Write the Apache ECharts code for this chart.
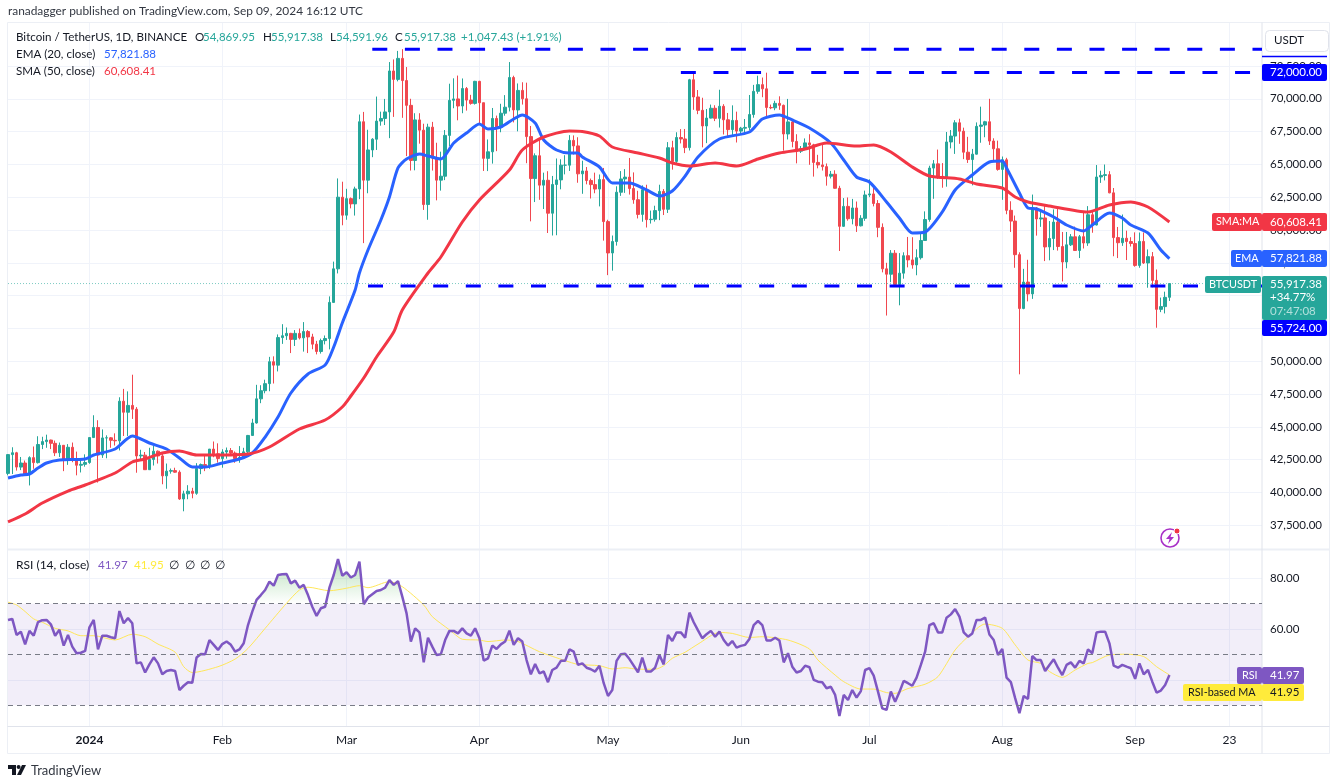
<!DOCTYPE html>
<html>
<head>
<meta charset="utf-8">
<title>BTCUSDT</title>
<script src="https://cdn.jsdelivr.net/npm/echarts@6/dist/echarts.min.js"></script>
<style>
  html, body { margin: 0; padding: 0; background: #fff; }
  #chart { width: 1336px; height: 784px; }
</style>
</head>
<body>
<div id="chart"></div>
<script>
// Daily candles, 13 Dec 2023 to 9 Sep 2024, one row per month
const opens = [
  41450,42880,43020,41930,42240,41360,42650,42270,43650,43870,43990,43740,43020,43590,42520,43440,42580,42070,42140,
  42280,44180,44950,42850,44150,44160,43970,43930,46950,46110,46630,46340,42780,42840,41730,42510,43140,42780,41260,41620,41660,41540,39500,39890,40090,39930,41820,42120,42030,43300,42940,
  42580,43080,43190,43000,42580,42660,43090,44340,45290,47130,47750,48290,49960,49700,51800,51940,52120,51660,52120,51780,52260,51850,51300,50740,51570,51730,54480,57040,62500,
  61130,62390,61990,63130,68250,63800,66100,66920,68300,68500,69000,72120,71480,73080,71390,69500,65300,68390,67610,61940,67840,65500,63800,64100,67210,69880,69990,69450,70780,69900,69650,
  71330,69700,65460,65960,68500,67840,68900,69360,71620,69150,70640,70000,67120,63920,65660,63420,63790,61280,63470,63820,64940,64940,66830,66410,64280,64500,63770,63460,63120,63840,
  60640,58250,59120,62880,63890,64030,63160,62310,61190,63070,60790,60820,61480,62940,61580,66270,65230,67050,66940,66280,71450,70140,69120,67930,68530,69280,68510,69430,68400,67650,68350,
  67540,67760,67820,68800,70570,71080,70760,69340,69310,69650,69500,67320,68240,66750,66010,66190,66640,66490,65150,64960,64830,64100,64250,63180,60280,61800,60860,61680,60320,60890,
  62670,62750,62020,60200,57040,56630,58230,55850,56710,58040,57720,57340,57890,59200,60800,64720,65040,64090,63970,66710,67160,68170,67530,65930,65370,65780,67900,68000,68250,66780,66190,
  64620,65350,61500,60680,58120,54020,56030,55130,61680,60840,60920,58710,59350,60600,58740,57560,58870,59480,58440,59490,59010,61160,60380,64040,64160,64220,62830,59420,59030,59370,59120,
  58970,57300,59130,57490,57970,56160,53950,54160,54869.95
];
const highs = [
  42800,43440,43090,42700,42430,42750,43500,44280,44240,44400,44020,43950,43800,43600,43680,43800,43110,42600,42900,
  44180,45880,45500,44800,44350,44220,44500,47250,47890,47700,48970,46500,43250,43080,43400,43570,43200,42930,42200,41820,41880,41680,40130,40550,40350,42230,42200,42840,43310,43880,43740,
  43290,43420,43380,43120,43530,43400,44380,45610,48200,48170,48590,50330,50370,52040,52820,52570,52160,52370,52490,52980,52370,52090,51550,51720,51960,54940,57590,63930,63680,
  63140,62480,63300,68800,69000,67640,67000,70170,69020,69990,72800,73000,73650,73780,72420,70000,68900,68900,68100,68100,68240,66650,65970,67620,71150,71560,71770,71550,70900,70300,71370,
  71370,69700,66900,69300,68720,69620,70280,72800,71760,71170,71260,71230,67930,65840,66870,64370,64480,64120,65450,65390,65700,67230,67210,67070,65280,64800,63920,64370,64230,64730,
  60780,59580,63330,64490,64640,65490,64390,62990,63400,63450,61480,61850,63450,63120,66700,66800,67450,67690,67700,71520,71980,70670,70080,69220,69560,69510,70690,69590,68920,69500,69020,
  67860,68460,70290,71060,71760,71620,71990,69560,69850,70190,69560,69990,68450,67300,66400,66980,67300,66570,65730,66480,65070,64500,64550,63370,62430,62480,62370,62170,61130,63000,
  63860,63290,62280,60500,57500,58470,58470,58240,58300,59470,59450,58530,59850,61420,64900,65330,66130,65100,67470,67620,68370,68480,67800,67100,66180,68200,69400,68320,70000,66990,66810,
  65600,65500,62190,61100,58300,57040,57730,62700,61750,61460,61860,60680,61570,61800,59850,59850,59690,60260,59620,61420,61820,61410,64950,64520,64990,64480,63200,60230,61180,59950,59450,
  59820,59810,59810,58520,58320,56990,54850,55300,55917.38
];
const lows = [
  41300,41400,41660,41700,41250,40530,41800,42200,43300,43400,43300,42770,42700,41620,42100,42300,41300,41520,41960,
  42180,44150,40750,42630,42600,43400,43570,43200,44300,44300,45600,41500,42430,41720,41720,42050,42200,40620,40280,41430,41500,39430,38560,39480,39550,39820,41390,41620,41800,42680,42270,
  41880,42570,42880,42260,42260,42570,42790,44330,45240,46800,47550,47710,48300,49220,51320,51620,50620,51160,51660,50730,50620,50910,50520,50580,51280,50900,54450,56690,60360,
  60780,61650,61100,62350,59000,62800,65550,66100,67950,68000,67000,68620,71330,68550,65630,64530,64550,66580,61530,60780,64530,62260,63000,63800,66400,69280,68360,68900,69100,69550,69560,
  68060,64500,64490,65060,66010,67450,68710,69040,68200,67520,69560,65090,60660,62130,62300,61600,59770,59580,59600,63100,64240,64500,65750,63600,62760,63480,62400,62800,61800,59190,
  56560,56900,58810,62600,62830,62700,62000,60880,60630,60190,60490,60640,60750,61140,61300,64600,65110,66600,65860,66060,69160,68830,66300,66620,68500,68300,67810,67280,67110,67130,66670,
  67380,67260,67610,68560,70380,70120,68500,69210,69130,69160,66050,66900,66300,65080,65870,66080,64970,64070,64700,64530,63380,63930,63150,58400,60240,60710,60430,59850,60270,60700,
  62500,61800,59450,56770,53480,56020,55720,54260,56290,57150,57050,56550,57750,59200,60630,62380,63900,63220,63300,66220,65800,66570,65400,65110,63400,65750,66650,67070,66480,65300,64520,
  62300,61200,59850,57120,49000,53960,54560,54750,59570,60240,57630,57690,58470,58430,56080,57080,58780,58420,57860,58590,58790,59790,60350,63590,63780,62800,58000,57860,58790,57710,58740,
  57200,57120,57410,55600,55630,52550,53740,53640,54591.96
];
const closes = [
  42880,43020,41930,42240,41360,42650,42270,43650,43870,43990,43740,43020,43590,42520,43440,42580,42070,42140,42280,
  44180,44950,42850,44150,44160,43970,43930,46950,46110,46630,46340,42780,42840,41730,42510,43140,42780,41260,41620,41660,41540,39500,39890,40090,39930,41820,42120,42030,43300,42940,42580,
  43080,43190,43000,42580,42660,43090,44340,45290,47130,47750,48290,49960,49700,51800,51940,52120,51660,52120,51780,52260,51850,51300,50740,51570,51730,54480,57040,62500,61130,
  62390,61990,63130,68250,63800,66100,66920,68300,68500,69000,72120,71480,73080,71390,69500,65300,68390,67610,61940,67840,65500,63800,64100,67210,69880,69990,69450,70780,69900,69650,71330,
  69700,65460,65960,68500,67840,68900,69360,71620,69150,70640,70000,67120,63920,65660,63420,63790,61280,63470,63820,64940,64940,66830,66410,64280,64500,63770,63460,63120,63840,60640,
  58250,59120,62880,63890,64030,63160,62310,61190,63070,60790,60820,61480,62940,61580,66270,65230,67050,66940,66280,71450,70140,69120,67930,68530,69280,68510,69430,68400,67650,68350,67540,
  67760,67820,68800,70570,71080,70760,69340,69310,69650,69500,67320,68240,66750,66010,66190,66640,66490,65150,64960,64830,64100,64250,63180,60280,61800,60860,61680,60320,60890,62670,
  62750,62020,60200,57040,56630,58230,55850,56710,58040,57720,57340,57890,59200,60800,64720,65040,64090,63970,66710,67160,68170,67530,65930,65370,65780,67900,68000,68250,66780,66190,64620,
  65350,61500,60680,58120,54020,56030,55130,61680,60840,60920,58710,59350,60600,58740,57560,58870,59480,58440,59490,59010,61160,60380,64040,64160,64220,62830,59420,59030,59370,59120,58970,
  57300,59130,57490,57970,56160,53950,54160,54870,55917.38
];

// Readings of the two averages: [candle index, value]
const emaReadings = [
  [0,41097],[3,41326],[5,41402],[7,41860],[9,42241],[12,42469],[18,42546],[20,42850],[25,43308],[29,44299],[33,43765],[37,43308],
  [40,42622],[43,41936],[46,41936],[50,42241],[54,42546],[57,43003],[60,44222],[63,45747],[66,47576],[70,49024],[74,49710],[76,51082],
  [78,52911],[81,55427],[82,56722],[84,58476],[87,60762],[89,62515],[91,64726],[93,65412],[96,65793],[98,65640],[101,65412],[104,66631],
  [107,67393],[110,68079],[112,67698],[115,67851],[118,68460],[120,68765],[123,68155],[125,66860],[128,66098],[131,65869],[133,65869],[134,65564],
  [138,64802],[141,63582],[145,63582],[149,63049],[152,62591],[155,62973],[158,64116],[161,65564],[166,66936],[173,67470],[176,68460],[180,68765],
  [183,68384],[187,67774],[192,66631],[195,65335],[198,64040],[201,63658],[205,62134],[208,60915],[211,59771],[214,59847],[218,61372],[221,63049],
  [225,64192],[229,65183],[232,65259],[233,64726],[236,62820],[238,61677],[240,61601],[244,60991],[247,60381],[251,59924],[253,60381],[257,61296],
  [260,60915],[262,60381],[266,59771],[269,58476],[271,57821.88]
];
const smaReadings = [
  [0,37744],[4,38353],[8,39192],[14,40106],[18,40564],[25,41478],[29,42317],[32,42546],[36,43003],[40,43155],[44,42850],[48,42850],
  [56,42927],[61,43460],[68,44832],[74,45518],[78,46509],[80,47347],[83,48719],[86,50320],[90,52225],[92,53902],[98,56722],[101,57942],
  [106,60610],[110,62287],[117,64573],[120,66098],[125,67088],[131,67546],[134,67508],[138,67165],[141,66326],[147,65869],[152,65488],[155,65107],
  [159,64878],[165,65107],[170,64878],[175,65412],[180,65869],[186,66174],[191,66631],[198,66402],[202,66479],[206,65945],[211,64802],[215,64116],
  [222,63887],[226,63506],[232,63201],[235,62515],[238,62134],[243,61829],[252,61372],[257,61905],[262,62134],[266,61753],[271,60608.41]
];

// RSI (14), one value per candle
const rsiValues = [
  63.6,64.0,57.7,59.0,54.0,59.3,57.4,62.7,63.5,63.6,61.9,57.4,59.7,53.5,57.7,53.1,50.5,50.7,51.4,
  60.7,63.6,52.0,57.4,57.4,56.8,56.4,67.1,62.3,64.3,62.3,46.5,46.9,42.9,46.1,48.9,46.5,42.2,43.5,43.9,43.5,36.0,37.7,39.1,38.9,48.8,50.2,50.1,55.7,53.8,51.8,
  54.1,55.1,53.8,51.1,52.0,54.4,61.6,66.9,71.5,73.4,75.4,78.7,77.1,81.3,81.6,81.7,78.0,79.1,76.3,77.4,73.4,68.8,65.2,68.2,68.8,76.3,81.3,87.6,81.0,
  82.4,80.3,81.3,86.6,69.8,72.4,73.7,75.0,75.4,76.3,79.3,77.4,78.9,72.8,66.2,55.1,60.3,58.7,46.9,56.6,53.1,49.8,50.1,55.7,59.3,59.3,58.3,60.3,58.3,57.4,60.3,
  56.4,47.6,48.5,53.5,52.2,54.0,55.1,59.4,53.8,56.4,55.1,47.8,42.2,46.3,42.6,43.3,39.1,43.9,44.8,47.5,47.5,52.0,51.1,45.9,46.5,44.8,44.2,43.3,45.6,38.7,
  33.7,36.0,47.5,50.1,50.3,48.2,45.6,43.0,48.8,43.3,43.3,44.8,49.8,46.1,57.7,55.3,58.7,58.7,56.6,66.5,62.7,59.5,56.4,58.0,59.3,57.0,59.0,55.7,53.5,55.3,52.7,
  53.4,53.8,56.1,61.6,63.2,61.6,55.5,55.5,56.6,55.5,46.9,50.5,45.2,42.9,43.5,45.6,45.0,40.0,39.3,39.1,36.7,37.3,34.1,25.8,34.1,32.1,36.0,33.0,35.6,43.9,
  44.6,41.7,35.4,28.8,28.2,35.4,31.4,35.2,39.6,38.7,37.7,40.9,45.9,51.1,61.6,62.3,58.7,58.7,64.5,65.8,67.9,64.9,58.7,57.0,58.3,63.6,63.6,64.5,57.9,55.7,49.8,
  52.2,40.9,39.1,32.8,26.9,33.7,32.5,49.4,47.8,47.8,43.5,45.9,48.1,44.8,41.9,45.9,46.9,44.8,47.5,46.5,52.0,50.5,58.7,59.0,59.0,54.4,45.6,44.8,45.9,45.2,44.6,
  40.4,46.5,42.2,43.9,39.3,35.0,35.8,38.0,41.97
];
const rsiMaReadings = [
  [0,70.6],[2,69.5],[4,66.9],[6,64.0],[8,62.7],[11,60.3],[14,59.3],[17,57.4],[20,57.4],[25,55.7],[29,58.0],[32,57.0],[35,54.1],[39,50.9],[41,45.2],[43,42.9],
  [49,45.2],[53,48.2],[56,52.4],[60,60.3],[65,70.2],[68,75.4],[70,76.5],[75,75.1],[79,76.1],[82,77.1],[84,76.3],[89,78.7],[92,76.7],[97,69.5],[99,64.9],[103,59.7],
  [104,58.3],[106,56.0],[110,55.7],[112,55.1],[116,55.7],[119,55.1],[124,51.1],[130,47.6],[133,46.1],[138,45.6],[141,44.3],[144,44.8],[147,44.2],[151,44.2],[153,45.6],[155,48.5],
  [158,50.9],[161,54.1],[166,58.7],[169,58.3],[173,56.7],[176,57.0],[182,55.7],[187,52.2],[189,47.8],[193,41.9],[195,39.3],[199,36.4],[202,36.4],[205,35.0],[207,34.7],[210,36.6],
  [214,38.3],[217,41.3],[221,51.8],[224,57.0],[228,62.0],[232,60.3],[235,53.8],[238,47.8],[241,46.5],[243,43.3],[246,41.0],[249,43.9],[252,46.5],[253,46.8],[257,49.8],[261,50.1],
  [265,49.2],[268,45.2],[271,41.95]
];

// Horizontal levels drawn by the author: [first candle index, price]
const drawnLevels = [[85,73777],[157,72000],[84,55724]];
const lastPrice = 55917.38;

const priceTicks = [37500,40000,42500,45000,47500,50000,52500,55000,57500,60000,62500,65000,67500,70000,72500];
const rsiTicks = [40,60,80];
// x is the number of days since 13 Dec 2023
const timeTicks = [19,50,79,110,140,171,201,232,263,285];
const timeTickLabels = ['2024','Feb','Mar','Apr','May','Jun','Jul','Aug','Sep','23'];
const xMax = 292.6;

const FONT = 'Lato, "Noto Sans", sans-serif';
const TEXT = '#131722';
const GREEN = '#26a69a';
const RED = '#f0484f';
const BLUE = '#2962ff';
const SMA_RED = '#f23645';
const PURPLE = '#7e57c2';
const YELLOW = '#ffeb3b';
const GRID_LINE = '#f0f3fa';
const FRAME = '#e0e3eb';
const OUTER = '#eceff5';

const money = v => v.toLocaleString('en-US', { minimumFractionDigits: 2, maximumFractionDigits: 2 });

const chart = echarts.init(document.getElementById('chart'), null, { renderer: 'canvas' });

// flat text + boxes around the plot
const txt = (x, y, text, fill, size) => ({
  type: 'text', z: 110, silent: true,
  style: { x, y, text, fill: fill || TEXT, font: (size || 11.6) + 'px ' + FONT, textVerticalAlign: 'middle' }
});
const box = (x, y, w, h, fill, r) => ({
  type: 'rect', z: 105, silent: true,
  shape: { x, y, width: w, height: h, r: r === undefined ? 2 : r },
  style: { fill }
});
const rule = (x1, y1, x2, y2, color, width) => ({
  type: 'line', z: 2, silent: true,
  shape: { x1, y1, x2, y2 },
  style: { stroke: color || FRAME, lineWidth: width || 1 }
});

const overlay = [
  // frame
  rule(7.5, 22.5, 1329.5, 22.5, OUTER), rule(7.5, 22.5, 7.5, 753.5, OUTER), rule(1329.5, 22.5, 1329.5, 753.5, OUTER),
  rule(7.5, 753.5, 1329.5, 753.5, OUTER), rule(7.5, 549.5, 1329.5, 549.5, OUTER, 2), rule(7.5, 726.5, 1329.5, 726.5),
  rule(1262, 22.5, 1262, 753.5),

  txt(8, 11, 'ranadagger published on TradingView.com, Sep 09, 2024 16:12 UTC', '#333842', 11.9),

  txt(16, 37, 'Bitcoin / TetherUS, 1D, BINANCE'),
  txt(195, 37, 'O'), txt(203, 37, '54,869.95', GREEN, 11.5),
  txt(263, 37, 'H'), txt(271, 37, '55,917.38', GREEN, 11.5),
  txt(330, 37, 'L'), txt(336, 37, '54,591.96', GREEN, 11.5),
  txt(395, 37, 'C'), txt(404, 37, '55,917.38', GREEN, 11.5),
  txt(461, 37, '+1,047.43 (+1.91%)', GREEN),
  txt(16, 54, 'EMA (20, close)'), txt(104, 54, '57,821.88', BLUE, 11.5),
  txt(16, 71, 'SMA (50, close)'), txt(104, 71, '60,608.41', SMA_RED, 11.5),

  txt(16, 565, 'RSI (14, close)', TEXT, 12), txt(98, 565, '41.97', PURPLE), txt(134, 565, '41.95', YELLOW),
  txt(169, 565, '∅'), txt(185, 565, '∅'), txt(200, 565, '∅'), txt(215, 565, '∅'),

  // currency box
  { type: 'rect', z: 105, silent: true, shape: { x: 1265.5, y: 30.5, width: 63, height: 21, r: 4 }, style: { fill: '#fff', stroke: FRAME } },
  txt(1274, 40, 'USDT'),

  // price tags
  rule(1262, 56.5, 1327, 56.5, '#0000ff', 1.5),
  box(1262, 64, 65, 17, '#0000ff'), txt(1270, 72.5, '72,000.00', '#fff', 11.5),
  box(1212, 213, 50, 18, SMA_RED), txt(1216, 222, 'SMA:MA', '#fff', 10.8),
  box(1262, 213, 65, 18, SMA_RED), txt(1270, 222, '60,608.41', '#fff', 11.5),
  box(1231, 250, 31, 17, BLUE), txt(1235, 258.5, 'EMA', '#fff', 10.8),
  box(1262, 250, 65, 17, BLUE), txt(1270, 258.5, '57,821.88', '#fff', 11.5),
  box(1205, 276, 56, 17, GREEN), txt(1209, 284.5, 'BTCUSDT', '#fff', 10.8),
  box(1262, 276, 65, 44, GREEN),
  txt(1270, 284, money(lastPrice), '#fff', 11.5), txt(1270, 297, '+34.77%', '#fff', 11.5), txt(1270, 311, '07:47:08', 'rgba(255,255,255,0.65)', 11.5),
  box(1262, 320, 65, 16, '#0000ff'), txt(1270, 328, '55,724.00', '#fff', 11.5),

  // rsi tags
  box(1237, 667, 25, 17, PURPLE), txt(1242, 675.5, 'RSI', '#fff', 10.8),
  box(1262, 667, 42, 17, PURPLE), txt(1270, 675.5, '41.97', '#fff', 11.5),
  box(1183, 684, 79, 17, YELLOW), txt(1188, 692.5, 'RSI-based MA', TEXT, 10.8),
  box(1262, 684, 42, 17, YELLOW), txt(1270, 692.5, '41.95', TEXT, 11.5),

  // small flash badge in the corner of the price pane
  { type: 'circle', z: 105, silent: true, shape: { cx: 1170, cy: 538, r: 9 }, style: { fill: '#fff', stroke: '#a832c8', lineWidth: 1.6 } },
  { type: 'polygon', z: 106, silent: true, shape: { points: [[1172,532],[1166,539],[1169.5,539],[1168,544],[1174,537],[1170.5,537]] }, style: { fill: '#a832c8' } },
  { type: 'circle', z: 107, silent: true, shape: { cx: 1177, cy: 531, r: 3 }, style: { fill: '#f23645', stroke: '#fff', lineWidth: 1 } },

  // footer mark
  { type: 'polygon', z: 106, silent: true, shape: { points: [[8,765],[16,765],[16,775],[12,775],[12,769],[8,769]] }, style: { fill: TEXT } },
  { type: 'circle', z: 106, silent: true, shape: { cx: 18.6, cy: 767, r: 2 }, style: { fill: TEXT } },
  { type: 'polygon', z: 106, silent: true, shape: { points: [[22,765],[26,765],[21,775],[17,775]] }, style: { fill: TEXT } },
  txt(31, 771, 'TradingView', '#333842', 13)
];

const xAxisBase = {
  type: 'value',
  min: 0,
  max: xMax,
  axisLine: { show: false },
  axisTick: { show: false, customValues: timeTicks },
  splitLine: { show: true, lineStyle: { color: GRID_LINE, width: 1 } }
};

const option = {
  animation: false,
  backgroundColor: '#fff',
  textStyle: { fontFamily: FONT },
  grid: [
    { left: 8, width: 1254, top: 23, height: 526 },
    { left: 8, width: 1254, top: 550, height: 177 }
  ],
  xAxis: [
    Object.assign({}, xAxisBase, { gridIndex: 0, axisLabel: { show: false } }),
    Object.assign({}, xAxisBase, {
      gridIndex: 1,
      axisLabel: {
        show: true,
        customValues: timeTicks,
        margin: 7,
        fontSize: 12,
        fontFamily: FONT,
        color: TEXT,
        formatter: v => {
          const label = timeTickLabels[timeTicks.indexOf(v)];
          return label === '2024' ? '{year|2024}' : label;
        },
        rich: { year: { fontWeight: 'bold', fontSize: 12, fontFamily: FONT, color: TEXT } }
      }
    })
  ],
  yAxis: [
    {
      type: 'value',
      gridIndex: 0,
      position: 'right',
      min: 35686,
      max: 75777,
      axisLine: { show: false },
      axisTick: { show: false, customValues: priceTicks },
      axisLabel: {
        customValues: priceTicks,
        margin: 8,
        fontSize: 11.5,
        fontFamily: FONT,
        color: TEXT,
        formatter: v => money(v)
      },
      splitLine: { show: true, lineStyle: { color: GRID_LINE, width: 1 } }
    },
    {
      type: 'value',
      gridIndex: 1,
      position: 'right',
      min: 21.46,
      max: 91.14,
      axisLine: { show: false },
      axisTick: { show: false, customValues: rsiTicks },
      axisLabel: {
        customValues: rsiTicks,
        margin: 8,
        fontSize: 11.5,
        fontFamily: FONT,
        color: TEXT,
        formatter: v => v.toFixed(2)
      },
      splitLine: { show: true, lineStyle: { color: GRID_LINE, width: 1 } }
    }
  ],
  graphic: overlay,
  series: [
    {
      name: 'BTCUSDT',
      type: 'candlestick',
      xAxisIndex: 0,
      yAxisIndex: 0,
      barWidth: 3,
      encode: { x: 0, y: [1, 2, 3, 4] },
      data: closes.map((c, i) => [i, opens[i], c, lows[i], highs[i]]),
      itemStyle: { color: GREEN, color0: RED, borderColor: GREEN, borderColor0: RED, borderWidth: 1 },
      z: 3
    },
    {
      name: 'EMA (20, close)',
      type: 'line',
      xAxisIndex: 0,
      yAxisIndex: 0,
      data: emaReadings,
      smooth: 0.25,
      showSymbol: false,
      lineStyle: { color: BLUE, width: 3 },
      z: 4
    },
    {
      name: 'SMA (50, close)',
      type: 'line',
      xAxisIndex: 0,
      yAxisIndex: 0,
      data: smaReadings,
      smooth: 0.25,
      showSymbol: false,
      lineStyle: { color: SMA_RED, width: 3 },
      z: 4
    },
    {
      name: 'Last price',
      type: 'line',
      xAxisIndex: 0,
      yAxisIndex: 0,
      data: [[0, lastPrice], [xMax, lastPrice]],
      showSymbol: false,
      lineStyle: { color: GREEN, width: 1, type: [1, 2], opacity: 0.6 },
      z: 4
    }
  ].concat(drawnLevels.map(level => ({
    name: 'Level ' + level[1],
    type: 'line',
    xAxisIndex: 0,
    yAxisIndex: 0,
    data: [[level[0], level[1]], [xMax, level[1]]],
    showSymbol: false,
    lineStyle: { color: '#0000ff', width: 3, type: [15, 17.6] },
    z: 5
  }))).concat([
    {
      name: 'RSI overbought',
      type: 'line',
      xAxisIndex: 1,
      yAxisIndex: 1,
      data: rsiValues.map((v, i) => [i, Math.max(v, 70)]),
      showSymbol: false,
      lineStyle: { width: 0 },
      areaStyle: {
        origin: 70,
        color: new echarts.graphic.LinearGradient(0, 0, 0, 1, [
          { offset: 0, color: 'rgba(76,175,80,0.55)' },
          { offset: 1, color: 'rgba(76,175,80,0)' }
        ])
      },
      z: 2
    },
    {
      name: 'RSI',
      type: 'line',
      xAxisIndex: 1,
      yAxisIndex: 1,
      data: rsiValues.map((v, i) => [i, v]),
      showSymbol: false,
      lineStyle: { color: PURPLE, width: 2.5 },
      z: 4,
      markArea: {
        silent: true,
        itemStyle: { color: 'rgba(126,87,194,0.1)' },
        data: [[{ xAxis: 0, yAxis: 30 }, { xAxis: xMax, yAxis: 70 }]]
      },
      markLine: {
        silent: true,
        symbol: 'none',
        label: { show: false },
        lineStyle: { color: '#787b86', width: 1, type: [5, 4] },
        data: [{ yAxis: 70 }, { yAxis: 50 }, { yAxis: 30 }]
      }
    },
    {
      name: 'RSI-based MA',
      type: 'line',
      xAxisIndex: 1,
      yAxisIndex: 1,
      data: rsiMaReadings,
      smooth: 0.25,
      showSymbol: false,
      lineStyle: { color: '#ffe75a', width: 1 },
      z: 3
    }
  ])
};

chart.setOption(option);
</script>
</body>
</html>
